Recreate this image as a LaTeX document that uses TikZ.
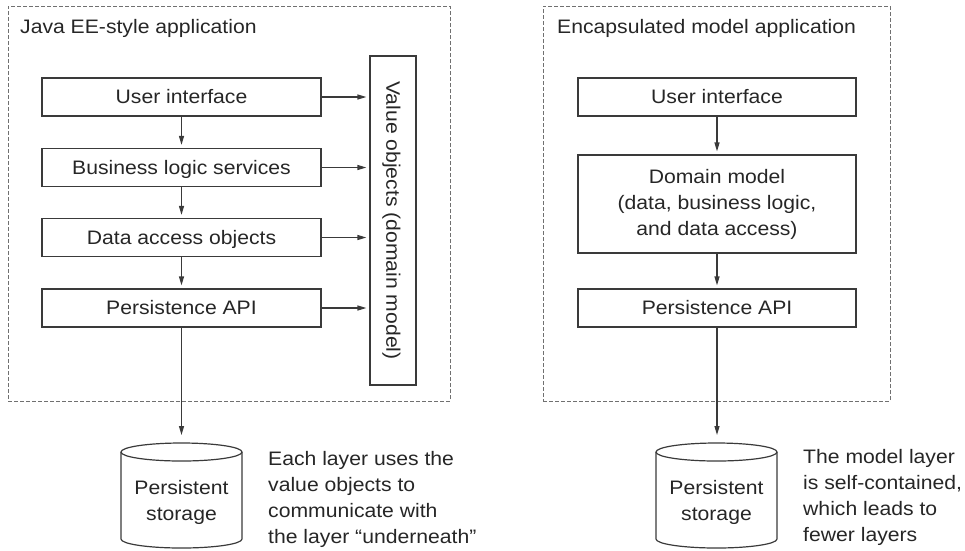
\documentclass[tikz,border=0pt]{standalone}
\usepackage{fontspec}
\setmainfont{Liberation Sans}[FakeStretch=1.085]
\usetikzlibrary{arrows.meta,calc}
\definecolor{ink}{HTML}{262626}
\definecolor{edge}{HTML}{3A3A3A}
\definecolor{dashc}{HTML}{707070}
\begin{document}
\begin{tikzpicture}[x=1pt,y=-1pt,
  font=\fontsize{19.5}{26}\selectfont, text=ink,
  frame/.style={draw=dashc, dash pattern=on 4pt off 2pt, line width=0.9pt, inner sep=0pt},
  layer/.style={draw=edge, line width=1.2pt, minimum width=279pt, minimum height=38pt,
    inner sep=0pt, text height=13.4pt, text depth=0pt},
  arr/.style={draw=edge, line width=1.2pt, -{Triangle[length=9pt,width=5pt]}, shorten >=3pt},
  cyl/.style={draw=edge, line width=1.2pt},
  note/.style={align=left, inner sep=0pt, anchor=north west}]
\useasboundingbox (0,0) rectangle (965,550);

% frames
\node[frame, minimum width=442pt, minimum height=395pt] (lframe) at (229,203.5) {};
\node[frame, minimum width=347pt, minimum height=395pt] (rframe) at (716.5,203.5) {};
\node[anchor=base west, inner sep=0pt] (ltitle) at (20,33) {Java EE-style application};
\node[anchor=base west, inner sep=0pt] (rtitle) at (557,33) {Encapsulated model application};

% left layers
\node[layer] (lui) at (181.5,97) {User interface};
\node[layer] (lbl) at (181.5,167.5) {Business logic services};
\node[layer] (lda) at (181.5,237.5) {Data access objects};
\node[layer] (lpa) at (181.5,308) {Persistence API};
\node[layer, rotate=-90, minimum width=329pt, minimum height=46pt] (vo) at (393,220.5) {Value objects (domain model)};

\draw[arr] (lui) -- (lbl);
\draw[arr] (lbl) -- (lda);
\draw[arr] (lda) -- (lpa);
\foreach \n in {lui,lbl,lda,lpa}{
  \draw[arr] (\n.east) -- (\n.east -| vo.south);
}

% left storage
\coordinate (lcyl) at (181.5,443);
\draw[arr, shorten >=8pt] (lpa) -- (lcyl);
\draw[cyl] (121,452) -- (121,539) arc[start angle=180, end angle=0, x radius=60.5, y radius=9] -- (242,452);
\draw[cyl] (181.5,452) ellipse[x radius=60.5, y radius=9];
\node[align=center, inner sep=0pt] (lst) at (181.5,502) {Persistent\\storage};
\node[note] (lnote) at (268,451) {Each layer uses the\\value objects to\\communicate with\\the layer “underneath”};

% right layers
\node[layer, minimum width=278pt] (rui) at (717,97) {User interface};
\node[draw=edge, line width=1.2pt, minimum width=278pt, minimum height=98pt, inner sep=0pt, align=center] (rdm) at (717,204) {Domain model\\(data, business logic,\\and data access)};
\node[layer, minimum width=278pt] (rpa) at (717,308) {Persistence API};
\draw[arr] (rui) -- (rdm);
\draw[arr] (rdm) -- (rpa);

% right storage
\coordinate (rcyl) at (717,443);
\draw[arr, shorten >=8pt] (rpa) -- (rcyl);
\draw[cyl] (656,452) -- (656,539) arc[start angle=180, end angle=0, x radius=60.5, y radius=9] -- (777,452);
\draw[cyl] (716.5,452) ellipse[x radius=60.5, y radius=9];
\node[align=center, inner sep=0pt] (rst) at (716.5,502) {Persistent\\storage};
\node[note] (rnote) at (803,449) {The model layer\\is self-contained,\\which leads to\\fewer layers};
\end{tikzpicture}
\end{document}
